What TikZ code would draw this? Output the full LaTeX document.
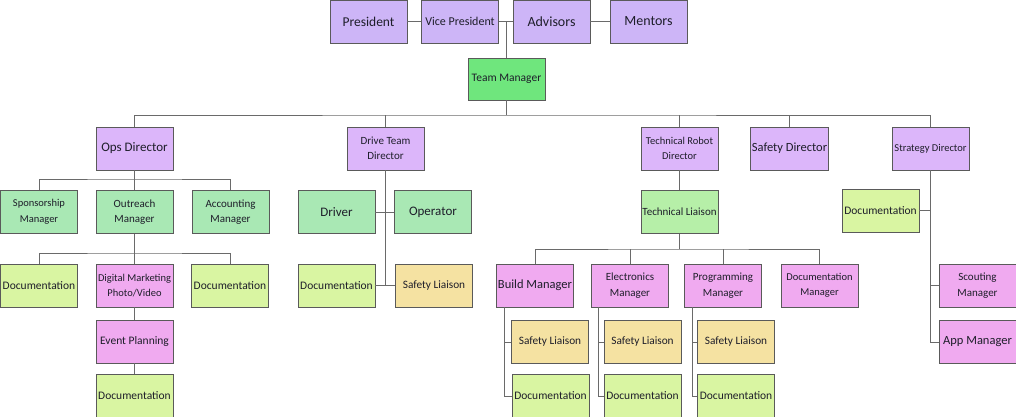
\documentclass[tikz,border=0pt]{standalone}
\usepackage{fontspec}
\setmainfont{Carlito}
\definecolor{toppurple}{HTML}{CDB5F7}
\definecolor{dirpurple}{HTML}{DCB6FA}
\definecolor{tmgreen}{HTML}{6FE67D}
\definecolor{mgrgreen}{HTML}{A9E8B4}
\definecolor{tlgreen}{HTML}{B6EFA8}
\definecolor{docgreen}{HTML}{D9F5A2}
\definecolor{pinkbox}{HTML}{F0AAF0}
\definecolor{safeyellow}{HTML}{F5E2A2}
\definecolor{edgegray}{HTML}{5A5A5A}
\definecolor{linegray}{HTML}{6A6A6A}
\definecolor{txt}{HTML}{1E1E2A}
\tikzset{
  box/.style={draw=edgegray, line width=0.9pt, minimum width=77pt, minimum height=43pt,
    inner sep=1pt, align=center, text=txt, font=\fontsize{11}{15.5}\selectfont},
  fs/.style={font=\fontsize{#1}{15.5}\selectfont},
  big/.style={font=\fontsize{13}{15}\selectfont},
  topbox/.style={box, fill=toppurple, font=\fontsize{13.5}{15}\selectfont},
  dirbox/.style={box, fill=dirpurple},
  tmbox/.style={box, fill=tmgreen, fs=11.5},
  mgrbox/.style={box, fill=mgrgreen},
  docbox/.style={box, fill=docgreen, fs=11.5},
  pinkb/.style={box, fill=pinkbox},
  safebox/.style={box, fill=safeyellow, fs=11.3},
  conn/.style={draw=linegray, line width=0.9pt},
}
\begin{document}
\begin{tikzpicture}[x=1pt,y=-1pt]
\useasboundingbox (0,0) rectangle (1016,417);
\fill[white] (0,0) rectangle (1016,417);

% top row
\node[topbox] (pres) at (368.5,21.5) {President};
\node[topbox, fs=12] (vp) at (460,21.5) {Vice President};
\node[topbox, font=\fontsize{14}{15}\selectfont] (adv) at (551.5,21.5) {Advisors};
\node[topbox, font=\fontsize{14}{15}\selectfont] (ment) at (648.5,21.5) {Mentors};
\node[tmbox, minimum height=42pt] (tm) at (506.5,79) {Team Manager};

% directors
\node[dirbox, big] (ops) at (134.5,148.5) {Ops Director};
\node[dirbox] (drive) at (385.5,148.5) {Drive Team\\Director};
\node[dirbox, fs=10.5] (trd) at (679.5,148.5) {Technical Robot\\Director};
\node[dirbox, font=\fontsize{12.5}{14}\selectfont] (safed) at (789.5,148.5) {Safety Director};
\node[dirbox, fs=10.5] (strat) at (930.5,148.5) {Strategy Director};

% ops subtree
\node[mgrbox, fs=10.5] (spons) at (39,212) {Sponsorship\\Manager};
\node[mgrbox] (outr) at (134.5,212) {Outreach\\Manager};
\node[mgrbox] (acct) at (230.5,212) {Accounting\\Manager};
\node[docbox] (odoc1) at (39,285.5) {Documentation};
\node[pinkb, fs=10.5] (dm) at (134.5,285.5) {Digital Marketing\\Photo/Video};
\node[docbox] (odoc2) at (230,285.5) {Documentation};
\node[pinkb, fs=11.5] (ev) at (134.5,341.5) {Event Planning};
\node[docbox] (odoc3) at (134.5,395.5) {Documentation};

% drive subtree
\node[mgrbox, big] (driver) at (336.5,212) {Driver};
\node[mgrbox, big] (oper) at (433,212) {Operator};
\node[docbox] (ddoc) at (336.5,285.5) {Documentation};
\node[safebox] (dsafe) at (434,285.5) {Safety Liaison};

% technical subtree
\node[box, fill=tlgreen] (tl) at (679.5,212) {Technical Liaison};
\node[pinkb, font=\fontsize{12.5}{14.5}\selectfont] (build) at (535,285.5) {Build Manager};
\node[pinkb] (elec) at (630,285.5) {Electronics\\Manager};
\node[pinkb] (prog) at (723,285.5) {Programming\\Manager};
\node[pinkb, fs=10.5] (docm) at (819.5,285.5) {Documentation\\Manager};
\node[safebox] (bsafe) at (550,342) {Safety Liaison};
\node[docbox] (bdoc) at (550.5,396) {Documentation};
\node[safebox] (esafe) at (642.5,342) {Safety Liaison};
\node[docbox] (edoc) at (642.5,396) {Documentation};
\node[safebox] (psafe) at (736,342) {Safety Liaison};
\node[docbox] (pdoc) at (736,396) {Documentation};

% strategy subtree
\node[docbox] (sdoc) at (880.5,210.5) {Documentation};
\node[pinkb] (scout) at (977.5,285.5) {Scouting\\Manager};
\node[pinkb, font=\fontsize{12.5}{14.5}\selectfont] (app) at (977.5,342) {App Manager};

% ---- connectors ----
\draw[conn] (pres) -- (vp);
\draw[conn] (vp) -- (adv);
\draw[conn] (adv) -- (ment);
\draw[conn] (tm.north) -- (tm.north |- vp.east);

\coordinate (mb) at (506.5,115);
\draw[conn] (tm.south) -- (mb);
\draw[conn] (ops.north) |- (mb) -| (strat.north);
\draw[conn] (drive.north) -- (drive.north |- mb);
\draw[conn] (trd.north) -- (trd.north |- mb);
\draw[conn] (safed.north) -- (safed.north |- mb);

% ops
\coordinate (ob1) at (134.5,179);
\draw[conn] (ops.south) -- (outr.north);
\draw[conn] (spons.north) |- (ob1) -| (acct.north);
\coordinate (ob2) at (134.5,253);
\draw[conn] (outr.south) -- (dm.north);
\draw[conn] (odoc1.north) |- (ob2) -| (odoc2.north);
\draw[conn] (dm) -- (ev);
\draw[conn] (ev) -- (odoc3);

% drive
\draw[conn] (drive.south) -- (drive.south |- dsafe.west);
\draw[conn] (driver) -- (oper);
\draw[conn] (ddoc) -- (dsafe);

% technical
\draw[conn] (trd) -- (tl);
\coordinate (tb) at (679.5,249);
\draw[conn] (tl.south) -- (tb);
\draw[conn] (build.north) |- (tb) -| (docm.north);
\draw[conn] (elec.north) -- (elec.north |- tb);
\draw[conn] (prog.north) -- (prog.north |- tb);

\draw[conn] ([xshift=-7pt]bsafe.west |- build.south) |- (bdoc.west);
\draw[conn] ([xshift=-7pt]bsafe.west) -- (bsafe.west);
\draw[conn] ([xshift=-5pt]esafe.west |- elec.south) |- (edoc.west);
\draw[conn] ([xshift=-5pt]esafe.west) -- (esafe.west);
\draw[conn] ([xshift=-5pt]psafe.west |- prog.south) |- (pdoc.west);
\draw[conn] ([xshift=-5pt]psafe.west) -- (psafe.west);

% strategy
\draw[conn] (strat.south) |- (app.west);
\draw[conn] (sdoc.east) -- (sdoc.east -| strat.south);
\draw[conn] (scout.west) -- (scout.west -| strat.south);
\end{tikzpicture}
\end{document}
